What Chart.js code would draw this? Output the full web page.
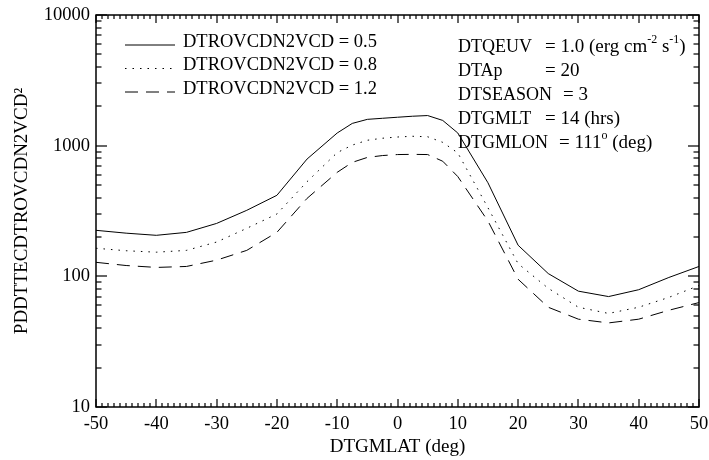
<!DOCTYPE html>
<html>
<head>
<meta charset="utf-8">
<script src="https://cdn.jsdelivr.net/npm/chart.js@4.4.1/dist/chart.umd.min.js"></script>
<style>
  html, body { margin: 0; padding: 0; background: #fff; }
</style>
</head>
<body>
<canvas id="chart" width="709" height="460"></canvas>
<script>
// values
const lat = [-50, -45, -40, -35, -30, -25, -20, -15, -10, -7.5, -5, -2.5, 0, 2.5, 5, 7.5, 10, 15, 20, 25, 30, 35, 40, 45, 50];
const ro05 = [225, 214, 206, 217, 254, 320, 417, 790, 1250, 1480, 1590, 1620, 1650, 1680, 1700, 1560, 1250, 520, 173, 105, 77, 70, 79, 98, 119];
const ro08 = [164, 157, 153, 158, 183, 233, 300, 530, 885, 1010, 1100, 1140, 1165, 1180, 1170, 1060, 880, 335, 125, 81, 58, 52, 58, 69, 85];
const ro12 = [128, 121, 117, 119, 133, 158, 217, 395, 625, 745, 813, 840, 855, 858, 855, 760, 580, 265, 95, 58, 47, 44, 47, 55, 63];

const xTicks = [-50, -40, -30, -20, -10, 0, 10, 20, 30, 40, 50];
const yTicks = [10, 100, 1000, 10000];

const legendLabels = ['DTROVCDN2VCD = 0.5', 'DTROVCDN2VCD = 0.8', 'DTROVCDN2VCD = 1.2'];
const lineDashes = [[], [1.5, 6], [13, 8]];

const paramNames = ['DTQEUV', 'DTAp', 'DTSEASON', 'DTGMLT', 'DTGMLON'];
// [text, isSuperscript]
const paramValues = [
  [['= 1.0 (erg cm'], ['-2', 1], [' s'], ['-1', 1], [')']],
  [['= 20']],
  [['= 3']],
  [['= 14 (hrs)']],
  [['= 111'], ['o', 1], [' (deg)']]
];

const FONT = '"Liberation Serif", "Times New Roman", serif';

function series(vals) {
  return lat.map((x, i) => ({ x: x, y: vals[i] }));
}

// inward ticks and box around the plot
const frameTicks = {
  id: 'frameTicks',
  afterDraw(chart) {
    const ctx = chart.ctx;
    const a = chart.chartArea;
    const xs = chart.scales.x;
    const ys = chart.scales.y;
    ctx.save();
    ctx.fillStyle = '#000';
    for (let v = -50; v <= 50; v++) {
      const px = Math.round(xs.getPixelForValue(v));
      const len = v % 10 === 0 ? 8 : 4;
      ctx.fillRect(px - 0.6, a.bottom - len, 1.2, len);
      ctx.fillRect(px - 0.6, a.top, 1.2, len);
    }
    for (let d = 10; d <= 10000; d *= 10) {
      for (let m = 1; m < 10; m++) {
        if (d === 10000 && m > 1) break;
        const py = Math.round(ys.getPixelForValue(d * m));
        const len = m === 1 ? 11 : 5.5;
        ctx.fillRect(a.left, py - 0.6, len, 1.2);
        ctx.fillRect(a.right - len, py - 0.6, len, 1.2);
      }
    }
    ctx.strokeStyle = '#000';
    ctx.lineWidth = 1.5;
    ctx.setLineDash([]);
    ctx.strokeRect(a.left, a.top, a.right - a.left, a.bottom - a.top);
    ctx.restore();
  }
};

// line-style legend and parameter text inside the plot
const notes = {
  id: 'notes',
  afterDraw(chart) {
    const ctx = chart.ctx;
    ctx.save();
    ctx.fillStyle = '#000';
    ctx.strokeStyle = '#000';
    ctx.textBaseline = 'middle';
    ctx.textAlign = 'left';

    chart.data.datasets.forEach((ds, i) => {
      const yy = 42 + i * 23.5;
      ctx.lineWidth = 1;
      ctx.setLineDash(ds.borderDash);
      ctx.beginPath();
      ctx.moveTo(125, yy + 3);
      ctx.lineTo(175, yy + 3);
      ctx.stroke();
      ctx.setLineDash([]);
      ctx.font = '18.5px ' + FONT;
      ctx.fillText(ds.label, 183, yy);
    });

    paramNames.forEach((name, i) => {
      const yy = 47 + i * 24;
      ctx.font = '18px ' + FONT;
      ctx.fillText(name, 458, yy);
      let xx = Math.max(545, 458 + ctx.measureText(name).width + 11);
      paramValues[i].forEach(([txt, sup]) => {
        ctx.font = (sup ? '12px ' : '19px ') + FONT;
        ctx.fillText(txt, xx, sup ? yy - 7 : yy);
        xx += ctx.measureText(txt).width;
      });
    });
    ctx.restore();
  }
};

const ctx = document.getElementById('chart').getContext('2d');
new Chart(ctx, {
  type: 'line',
  data: {
    datasets: [ro05, ro08, ro12].map((vals, i) => ({
      label: legendLabels[i],
      data: series(vals),
      borderColor: '#000',
      borderWidth: 1,
      borderDash: lineDashes[i],
      pointRadius: 0,
      tension: 0,
      fill: false
    }))
  },
  options: {
    responsive: false,
    animation: false,
    devicePixelRatio: 1,
    layout: { padding: { left: 0, right: 10, top: 15, bottom: 0 } },
    plugins: {
      legend: { display: false },
      tooltip: { enabled: false }
    },
    scales: {
      x: {
        type: 'linear',
        min: -50,
        max: 50,
        afterBuildTicks: s => { s.ticks = xTicks.map(v => ({ value: v })); },
        afterFit: s => { s.height = 53; s.paddingLeft = 0; s.paddingRight = 10; },
        grid: { display: false, drawTicks: false },
        border: { display: false },
        ticks: {
          color: '#000',
          font: { family: FONT, size: 18.5 },
          padding: 6,
          maxRotation: 0,
          autoSkip: false,
          callback: v => String(v)
        },
        title: {
          display: true,
          text: 'DTGMLAT (deg)',
          color: '#000',
          font: { family: FONT, size: 19 },
          padding: { top: 0, bottom: 2 }
        }
      },
      y: {
        type: 'logarithmic',
        min: 10,
        max: 10000,
        afterBuildTicks: s => { s.ticks = yTicks.map(v => ({ value: v })); },
        afterFit: s => { s.width = 96; s.paddingTop = 0; s.paddingBottom = 0; },
        grid: { display: false, drawTicks: false },
        border: { display: false },
        ticks: {
          color: '#000',
          font: { family: FONT, size: 18.5 },
          padding: 6,
          autoSkip: false,
          callback: v => String(v)
        },
        title: {
          display: true,
          text: 'PDDTTECDTROVCDN2VCD\u00B2',
          color: '#000',
          font: { family: FONT, size: 19 },
          padding: { top: 11, bottom: 0 }
        }
      }
    }
  },
  plugins: [frameTicks, notes]
});
</script>
</body>
</html>
